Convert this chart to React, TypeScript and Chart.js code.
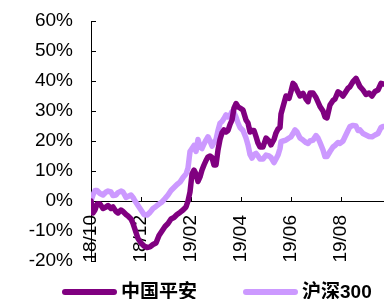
import React, { useEffect, useRef } from 'react';
import { Chart, registerables } from 'chart.js';

Chart.register(...registerables);

const tickLabels = ['18/10', '18/12', '19/02', '19/04', '19/06', '19/08'];
const seriesNames = ['中国平安', '沪深300'];
const seriesColors = ['#800080', '#CC99FF'];

// months since 18/10 start
const months = [
  0, 0.08, 0.16, 0.24, 0.36, 0.48, 0.6, 0.68, 0.8, 0.88,
  1.0, 1.08, 1.2, 1.28, 1.4, 1.48, 1.6, 1.68, 1.76, 1.88,
  2.0, 2.12, 2.24, 2.36, 2.48, 2.6, 2.72, 2.84, 2.96, 3.08,
  3.2, 3.32, 3.44, 3.56, 3.68, 3.8, 3.88, 3.96, 4.04, 4.12,
  4.2, 4.28, 4.36, 4.44, 4.52, 4.6, 4.68, 4.76, 4.84, 4.92,
  5.0, 5.08, 5.16, 5.24, 5.32, 5.4, 5.48, 5.56, 5.64, 5.72,
  5.8, 5.88, 5.96, 6.08, 6.2, 6.28, 6.36, 6.44, 6.52, 6.6,
  6.68, 6.76, 6.88, 7.0, 7.12, 7.2, 7.32, 7.4, 7.48, 7.56,
  7.6, 7.68, 7.8, 7.92, 8.0, 8.08, 8.16, 8.24, 8.36, 8.48,
  8.6, 8.68, 8.76, 8.88, 9.0, 9.08, 9.16, 9.28, 9.36, 9.44,
  9.56, 9.68, 9.76, 9.88, 9.96, 10.08, 10.16, 10.28, 10.36, 10.48,
  10.6, 10.68, 10.76, 10.88, 11.0, 11.12, 11.24, 11.36, 11.48, 11.6,
  11.68,
];

const pingAn = [
  0, -4, -3, -1, -1, -2.5, -2, -1.5, -2.5, -2,
  -3.5, -4, -3, -3.5, -4.5, -5, -6, -7.5, -9.5, -12.5,
  -14, -15, -15.5, -15.3, -14.5, -14, -11.5, -10, -8.5, -7.5,
  -6, -5.5, -4.5, -3.8, -3, -2, 0, 3, 9, 10.3,
  9, 6.5, 8, 10.3, 12, 13.5, 14.7, 15, 14.5, 12,
  12, 17, 20.5, 22.7, 23.7, 23, 23.5, 25.5, 27, 31,
  32.5, 31.4, 31, 30.3, 27, 26, 23, 23.5, 23.5, 21.5,
  19.3, 18, 18, 21, 20, 18.7, 20.5, 22.7, 24, 24.5,
  29, 31.4, 35, 34.2, 36.5, 39.2, 38.5, 37, 35, 35.9,
  34, 33.1, 36, 36, 34.5, 33, 31.5, 30, 28, 27.7,
  32, 33.5, 34, 36.4, 36, 35, 36, 37.6, 38.1, 39.8,
  40.9, 39.5, 38.1, 37, 35.5, 36, 35, 36.5, 37, 39.2,
  39,
];

const hs300 = [
  0, 2, 3.5, 3.5, 2.5, 2, 3, 3.3, 3, 1.8,
  2, 2.8, 3.3, 3, 1.2, 1.5, 2, 1.2, 0, -1.5,
  -3, -4.5, -4.7, -3.8, -2.5, -1.8, -1, -0.3, 0.8, 2,
  3.5, 4.5, 5.5, 6.3, 7.8, 9, 11, 16.5, 17.5, 18.5,
  16.5, 20.5, 18, 17.5, 19, 20.3, 21.4, 20, 18.3, 19.5,
  20.5, 23.5, 25.9, 26.5, 27.5, 28.7, 28, 28.5, 29.8, 29.5,
  28, 26, 24.5, 23.5, 21, 18.7, 15.5, 14.3, 15.5, 15.9,
  15, 14, 14, 15.3, 15, 14.5, 12.8, 14, 15.3, 17.5,
  19.8, 20, 20.3, 21, 21.4, 22.5, 23.7, 23, 21, 20.3,
  19.5, 19.2, 20, 20.3, 21.8, 21, 19.5, 17, 14.8, 14.8,
  16.5, 18, 18.5, 19.5, 19.2, 20, 21.4, 23.5, 24.8, 25.2,
  25, 23.5, 23.7, 22.5, 22, 21.5, 21.4, 22, 22.5, 24.5,
  24.8,
];

const FONT = '"Liberation Sans", Arial, "Noto Sans CJK SC", sans-serif';

export default function App() {
  const ref = useRef<HTMLCanvasElement>(null);

  useEffect(() => {
    if (!ref.current) return;
    const mk = (vals: number[]) => months.map((m, i) => ({ x: m, y: vals[i] }));
    const line = (i: number, vals: number[]) => ({
      label: seriesNames[i],
      data: mk(vals),
      borderColor: seriesColors[i],
      backgroundColor: seriesColors[i],
      borderWidth: 5.5,
      pointRadius: 0,
      tension: 0,
      borderJoinStyle: 'round' as const,
      borderCapStyle: 'round' as const,
    });
    const chart = new Chart(ref.current, {
      type: 'line',
      data: { datasets: [line(0, pingAn), line(1, hs300)] },
      options: {
        animation: false,
        responsive: false,
        layout: { padding: { top: 21, bottom: 38, left: 0, right: 0 } },
        plugins: { legend: { display: false }, tooltip: { enabled: false } },
        scales: {
          x: {
            type: 'linear',
            min: 0,
            max: 11.72,
            position: { y: 0 } as any,
            afterBuildTicks: (s: any) => {
              s.ticks = tickLabels.map((_, i) => ({ value: i * 2 }));
            },
            ticks: {
              callback: (_v: any, i: number) => tickLabels[i],
              minRotation: 90,
              maxRotation: 90,
              autoSkip: false,
              padding: 19,
              color: '#000',
              font: { family: FONT, size: 19 },
            },
            grid: { drawOnChartArea: false, drawTicks: true, tickLength: -5, color: '#000' },
            border: { color: '#000', width: 1 },
          },
          y: {
            min: -20,
            max: 60,
            afterFit: (s: any) => {
              s.width = 91;
              s.paddingTop = 0;
              s.paddingBottom = 0;
            },
            ticks: {
              stepSize: 10,
              callback: (v: any) => v + '%',
              padding: 23,
              color: '#000',
              font: { family: FONT, size: 19 },
            },
            grid: { drawOnChartArea: false, drawTicks: true, tickLength: -5, color: '#000' },
            border: { color: '#000', width: 1 },
          },
        },
      },
    });
    return () => chart.destroy();
  }, []);

  const legendLeft = [62, 243];

  return (
    <div style={{ position: 'fixed', left: 0, top: 0, width: 384, height: 299, overflow: 'hidden', background: '#fff' }}>
      <canvas ref={ref} width={384} height={299} style={{ display: 'block' }} />
      {seriesNames.map((name, i) => (
        <div
          key={name}
          style={{
            position: 'absolute',
            left: legendLeft[i],
            top: 281,
            height: 21,
            display: 'flex',
            alignItems: 'center',
            whiteSpace: 'nowrap',
          }}
        >
          <div style={{ width: 55, height: 6, borderRadius: 3, background: seriesColors[i], marginRight: 4 }} />
          <span style={{ fontFamily: FONT, fontWeight: 'bold', fontSize: 19, color: '#000', lineHeight: '21px' }}>{name}</span>
        </div>
      ))}
    </div>
  );
}
